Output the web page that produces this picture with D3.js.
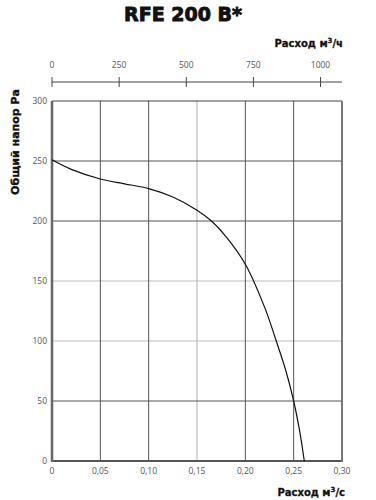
<!DOCTYPE html>
<html><head><meta charset="utf-8">
<script src="https://cdn.jsdelivr.net/npm/d3@7"></script>
<style>body{margin:0;background:#fff;} svg{display:block;}</style>
</head><body>
<script>
const title = "RFE 200 B*";
const flow = [0, 0.02, 0.05, 0.075, 0.10, 0.125, 0.15, 0.165, 0.18, 0.20, 0.22, 0.232, 0.242, 0.25, 0.256, 0.261];
const pressure = [251, 243, 235, 231, 227, 220, 209, 200, 187, 164, 128, 100, 75, 50, 26, 0];
const xTicks = [0, 0.05, 0.10, 0.15, 0.20, 0.25, 0.30];
const yTicks = [0, 50, 100, 150, 200, 250, 300];
const topTicks = [0, 250, 500, 750, 1000];
const darkX = [0.05, 0.10, 0.20, 0.25];
const lightX = [0.15];
const darkY = [50, 200, 250];
const lightY = [100, 150];

const W = 376, H = 500;
const svg = d3.select("body").append("svg").attr("width", W).attr("height", H);
const x = d3.scaleLinear().domain([0, 0.30]).range([52, 342]);
const y = d3.scaleLinear().domain([0, 300]).range([461, 101]);
const xh = d3.scaleLinear().domain([0, 0.30 * 3600]).range([52, 342]);
const fmt = d => d === 0 ? "0" : d3.format(".2f")(d).replace(".", ",");

// grid
svg.selectAll(".gxl").data(lightX).join("line").attr("x1", d => x(d)).attr("x2", d => x(d))
  .attr("y1", y(300)).attr("y2", y(0)).attr("stroke", "#bdbdbd").attr("stroke-width", 1.2);
svg.selectAll(".gyl").data(lightY).join("line").attr("y1", d => y(d)).attr("y2", d => y(d))
  .attr("x1", x(0)).attr("x2", x(0.30)).attr("stroke", "#bdbdbd").attr("stroke-width", 1.2);
svg.selectAll(".gxd").data(darkX).join("line").attr("x1", d => x(d)).attr("x2", d => x(d))
  .attr("y1", y(300)).attr("y2", y(0)).attr("stroke", "#555").attr("stroke-width", 1);
svg.selectAll(".gyd").data(darkY).join("line").attr("y1", d => y(d)).attr("y2", d => y(d))
  .attr("x1", x(0)).attr("x2", x(0.30)).attr("stroke", "#555").attr("stroke-width", 1);

// frame
svg.append("line").attr("x1", x(0)).attr("x2", x(0.30)).attr("y1", y(300)).attr("y2", y(300)).attr("stroke", "#444").attr("stroke-width", 1.2);
svg.append("line").attr("x1", x(0)).attr("x2", x(0.30)+1).attr("y1", y(0)).attr("y2", y(0)).attr("stroke", "#555").attr("stroke-width", 2);
svg.append("line").attr("x1", x(0.30)).attr("x2", x(0.30)).attr("y1", y(300)).attr("y2", y(0)+1).attr("stroke", "#777").attr("stroke-width", 2);
svg.append("line").attr("x1", x(0)).attr("x2", x(0)).attr("y1", y(300)).attr("y2", y(0)+1).attr("stroke", "#666").attr("stroke-width", 2.5);

// curve
const line = d3.line().x(d => x(d[0])).y(d => y(d[1])).curve(d3.curveCatmullRom.alpha(0.5));
svg.append("path").datum(flow.map((f, i) => [f, pressure[i]])).attr("d", line)
  .attr("fill", "none").attr("stroke", "#111").attr("stroke-width", 1.2);

const tickFont = "'Open Sans', sans-serif";
// y ticks
svg.selectAll(".yt").data(yTicks).join("text").attr("x", 47).attr("y", d => y(d) + 3)
  .attr("text-anchor", "end").attr("font-family", tickFont).attr("font-size", 8.5).attr("fill", "#555").text(d => d);
// x ticks
svg.selectAll(".xt").data(xTicks).join("text").attr("x", d => x(d)).attr("y", 474)
  .attr("text-anchor", "middle").attr("font-family", tickFont).attr("font-size", 8.5).attr("fill", "#555").text(fmt);

// top axis
svg.append("line").attr("x1", x(0)).attr("x2", x(0.30)).attr("y1", 82).attr("y2", 82).attr("stroke", "#444").attr("stroke-width", 1);
svg.selectAll(".tt").data(topTicks).join("line").attr("x1", d => xh(d)).attr("x2", d => xh(d))
  .attr("y1", 77).attr("y2", 87).attr("stroke", "#444").attr("stroke-width", 1);
svg.selectAll(".ttl").data(topTicks).join("text").attr("x", d => xh(d)).attr("y", 68)
  .attr("text-anchor", "middle").attr("font-family", tickFont).attr("font-size", 8.5).attr("fill", "#555").text(d => d);

// labels
svg.append("text").attr("x", 183).attr("y", 21).attr("text-anchor", "middle")
  .attr("font-family", "'DejaVu Sans', sans-serif").attr("font-weight", "bold").attr("font-size", 19)
  .attr("fill", "#111").attr("stroke", "#111").attr("stroke-width", 0.9).text(title);
svg.append("text").attr("x", 343).attr("y", 47).attr("text-anchor", "end")
  .attr("font-family", "'DejaVu Sans', sans-serif").attr("font-weight", "bold").attr("font-size", 10)
  .attr("fill", "#111").attr("stroke", "#111").attr("stroke-width", 0.3)
  .html('Расход м<tspan dy="-4" font-size="7">3</tspan><tspan dy="4">/ч</tspan>');
svg.append("text").attr("x", 345).attr("y", 496).attr("text-anchor", "end")
  .attr("font-family", "'DejaVu Sans', sans-serif").attr("font-weight", "bold").attr("font-size", 10)
  .attr("fill", "#111").attr("stroke", "#111").attr("stroke-width", 0.3)
  .html('Расход м<tspan dy="-4" font-size="7">3</tspan><tspan dy="4">/с</tspan>');
svg.append("text").attr("transform", "translate(19,142) rotate(-90)").attr("text-anchor", "middle")
  .attr("font-family", "'DejaVu Sans', sans-serif").attr("font-weight", "bold").attr("font-size", 11)
  .attr("fill", "#111").attr("stroke", "#111").attr("stroke-width", 0.4)
  .text("Общий напор Ра");
</script>
</body></html>
